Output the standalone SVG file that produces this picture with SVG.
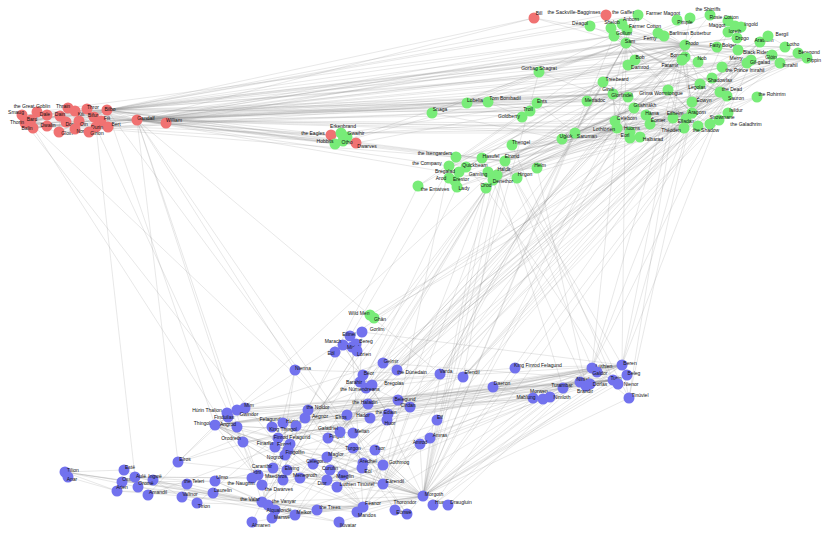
<svg xmlns="http://www.w3.org/2000/svg" width="830" height="536" viewBox="0 0 830 536">
<style>
.e{fill:none;stroke:#8a8a8a;stroke-width:0.45;stroke-opacity:0.45}
.r{fill:#f07272}
.g{fill:#78ec78}
.b{fill:#7272ee}
circle{stroke:none}
text{font-family:"Liberation Sans",Arial,sans-serif;font-size:5px;fill:#111;text-anchor:middle}
</style>
<rect width="830" height="536" fill="#fff"/>
<g id="edges">
<path class="e" d="M137 120L107 110M137 120L25 123M137 120L31 120M137 120L166 123M137 120L108 127M137 120L60 116M137 120L33 128M137 120L68 108M137 120L22 115M137 120L37 112M137 120L101 121M137 120L75 111M137 120L87 109M137 120L47 126M137 120L66 122M107 110L25 123M107 110L22 115M107 110L31 120M107 110L33 128M107 110L66 122M107 110L108 127M107 110L166 123M107 110L37 112M107 110L87 109M107 110L101 121M107 110L75 111M107 110L94 117M107 110L79 121M107 110L59 132M107 110L47 115M25 123L31 120M25 123L22 115M25 123L60 116M25 123L68 108M25 123L87 109M25 123L33 128M25 123L101 121M25 123L75 111M25 123L47 126M25 123L66 122M25 123L96 127M25 123L59 132M25 123L37 112M25 123L89 132M31 120L22 115M31 120L47 115M31 120L89 132M31 120L60 116M87 109L68 108M68 108L60 116M101 121L75 111M108 127L166 123M33 128L47 126M79 121L59 132M66 122L75 129M96 127L68 108M94 117L75 129M108 127L96 127M60 116L59 132"/>
<path class="e" d="M137 120L685 45M137 120L626 43M137 120L692 113M137 120L575 133M137 120L505 161M137 120L614 36M137 120L751 60M137 120L807 58M137 120L684 128M137 120L603 82M137 120L613 94M137 120L700 84M137 120L712 78M137 120L493 180M137 120L331 135M137 120L347 137M137 120L335 144M137 120L534 18M137 120L685 57M137 120L682 60M137 120L650 124M137 120L727 96M137 120L668 90M137 120L738 50M137 120L617 128M137 120L628 97M137 120L488 102M137 120L449 166M137 120L664 36M137 120L356 143M137 120L587 101M137 120L630 132M137 120L537 103M137 120L456 157M137 120L692 102M107 110L685 45M107 110L614 36M107 110L626 43M107 110L606 15M107 110L505 161M107 110L613 94M107 110L467 103M107 110L530 110M107 110L737 38M107 110L638 15M107 110L692 113M107 110L751 60M107 110L807 58M107 110L590 26M107 110L335 144M107 110L331 135M107 110L356 143M107 110L717 47M107 110L785 47M107 110L534 18M25 123L505 161M25 123L331 135M25 123L356 143M108 127L530 110M166 123L530 110M166 123L626 43M59 132L613 94M59 132L685 45M33 128L613 94M60 116L613 94M37 112L614 36M22 115L727 96M31 120L685 45M33 128L685 45M94 117L356 143"/>
<path class="e" d="M137 120L272 518M137 120L295 370M137 120L262 502M137 120L440 374M137 120L178 462M107 110L383 484M22 115L423 496M96 127L262 485M96 127L135 477M25 123L285 455M137 120L407 514M107 110L215 425M33 128L262 485"/>
<path class="e" d="M685 45L626 43M685 45L614 36M685 45L751 60M685 45L807 58M685 45L692 113M685 45L685 57M685 45L682 60M685 45L700 84M685 45L613 94M685 45L690 18M685 45L717 47M685 45L664 36M685 45L738 50M685 45L611 28M685 45L727 96M685 45L505 161M685 45L488 102M685 45L522 117M685 45L785 47M685 45L737 38M685 45L658 33M685 45L628 97M685 45L628 65M685 45L622 24M685 45L615 121M685 45L638 15M685 45L627 30M685 45L710 15M685 45L467 103M685 45L603 82M685 45L668 90M685 45L534 18M626 43L614 36M626 43L611 28M626 43L638 15M626 43L728 21M626 43L627 30M626 43L534 18M626 43L682 60M626 43L751 60M626 43L807 58M626 43L467 103M626 43L622 24M626 43L628 65M626 43L635 60M626 43L692 113M626 43L700 84M626 43L613 94M626 43L603 82M626 43L785 47M626 43L575 133M626 43L539 72M626 43L432 113M626 43L727 96M626 43L690 18M626 43L606 15M626 43L710 15M614 36L590 26M614 36L611 28M614 36L727 96M614 36L682 60M614 36L700 84M614 36L692 113M614 36L539 72M614 36L738 50"/>
<path class="e" d="M692 113L700 84M692 113L613 94M692 113L685 57M692 113L650 124M692 113L684 128M692 113L692 102M692 113L640 137M692 113L686 119M692 113L505 161M692 113L728 113M692 113L760 42M692 113L493 180M692 113L720 92M692 113L780 63M692 113L682 60M692 113L728 32M692 113L751 60M692 113L807 58M692 113L727 96M692 113L698 126M692 113L646 115M692 113L615 121M692 113L668 90M692 113L712 78M692 113L710 124M692 113L673 118M692 113L575 133M692 113L482 158M692 113L457 187M692 113L738 50M692 113L798 53M692 113L449 166M692 113L587 101M684 128L650 124M684 128L692 102M684 128L646 115M684 128L668 90M684 128L575 133M684 128L751 60M684 128L719 120M684 128L341 133M684 128L488 172M684 128L537 168M684 128L512 145M684 128L630 138M684 128L673 118M684 128L757 97M684 128L517 178M684 128L603 82M684 128L634 108M650 124L692 102M650 124L780 63M650 124L482 158M650 124L757 97M650 124L640 137M650 124L646 115M700 84L613 94M700 84L449 178M700 84L712 78M700 84L720 92M613 94L772 55M613 94L615 121M613 94L617 128M613 94L603 82"/>
<path class="e" d="M575 133L603 82M575 133L668 90M575 133L562 139M575 133L456 157M575 133L634 108M575 133L727 96M575 133L785 47M575 133L537 103M575 133L630 132M575 133L486 188M575 133L341 133M575 133L751 60M575 133L807 58M603 82L537 103M603 82L466 167M603 82L459 172M603 82L751 60M603 82L807 58M603 82L418 186M603 82L630 132M603 82L587 101M603 82L449 166M493 180L682 60M493 180L685 57M493 180L807 58M493 180L798 53M493 180L517 178M493 180L780 63M493 180L727 96M493 180L768 36M807 58L751 60M807 58L798 53M807 58L768 36M807 58L587 101M751 60L587 101M751 60L692 102M751 60L722 67M505 161L455 181M505 161L628 97M505 161L686 119M505 161L747 63M505 161L449 166M505 161L700 84M505 161L613 94M505 161L682 60M505 161L685 57M505 161L727 96M692 102L682 60M720 92L640 137M727 96L738 50M727 96L668 90M727 96L682 60M685 57L682 60M685 57L698 62M682 60L628 65M682 60L698 62M488 102L522 117M488 102L467 103M488 102L530 110M482 158L449 178M497 175L615 121M497 175L617 128M457 187L615 121M486 188L712 78M486 188L456 157M341 133L347 137M335 144L331 135M343 141L356 143M347 137L331 135M335 144L343 141M562 139L634 108M562 139L432 113M630 132L617 128M615 121L617 128M710 124L617 128M686 119L760 42M640 137L760 42M728 113L760 42M722 67L780 63M539 72L634 108M539 72L432 113M512 145L630 138M537 168L488 172M466 167L459 172M418 186L537 103M449 166L613 94M449 166L626 43M335 144L685 45M335 144L626 43M331 135L692 113M331 135L712 78M356 143L613 94M356 143L505 161M370 315L374 318M370 315L684 128M374 318L751 60M374 318L757 97"/>
<path class="e" d="M505 161L383 484M505 161L347 415M505 161L592 368M505 161L622 365M505 161L423 496M505 161L629 398M505 161L178 462M692 113L622 365M692 113L592 368M692 113L463 377M692 113L397 370M692 113L366 388M692 113L360 382M692 113L629 398M692 113L215 425M727 96L423 496M727 96L622 365M727 96L592 368M727 96L433 505M727 96L278 438M727 96L463 377M727 96L295 515M728 113L463 377M747 63L463 377M747 63L328 438M747 63L410 407M747 63L383 484M615 121L340 432M710 124L340 432M617 128L340 432M613 94L340 432M685 45L340 432M685 45L440 374M685 45L383 484M626 43L383 484M626 43L440 374M700 84L440 374M628 97L353 448M628 97L423 496M493 180L366 388M682 60L366 388M685 57L366 388M640 137L397 370M686 119L397 370M760 42L397 370M728 32L397 370M780 63L366 388M486 188L423 496M486 188L288 450M486 188L363 507M486 188L272 518M486 188L262 502M486 188L613 380M685 45L622 365M626 43L622 365M626 43L592 368M685 45L592 368M685 45L629 398M505 161L463 377M603 82L440 374M482 158L586 386M497 175L563 388M456 157L262 485M575 133L423 496M539 72L423 496M614 36L423 496M634 108L423 496M738 50L423 496M493 180L423 496M493 180L295 515M457 187L340 432M449 166L383 484M418 186L262 502M512 145L613 380M537 168L586 386M692 113L353 448"/>
<path class="e" d="M423 496L363 507M423 496L288 450M423 496L613 380M423 496L622 365M423 496L592 368M423 496L283 423M423 496L433 505M423 496L448 505M423 496L395 510M423 496L383 465M423 496L295 515M423 496L272 518M423 496L383 484M423 496L215 425M423 496L353 448M423 496L283 480M423 496L278 438M423 496L437 420M423 496L430 438M423 496L420 444M423 496L262 502M423 496L357 512M423 496L407 514M423 496L563 388M423 496L543 399M423 496L533 398M423 496L618 384M423 496L629 398M423 496L627 375M423 496L463 377M423 496L440 374M423 496L328 438M423 496L387 420M423 496L375 450M423 496L339 522M423 496L317 510M423 496L343 475M423 496L327 457M423 496L313 464M423 496L330 470M613 380L627 375M613 380L618 384M613 380L543 399M613 380L283 423M613 380L533 398M613 380L215 425M613 380L563 388M613 380L580 382M613 380L586 386M613 380L590 384M613 380L237 410M613 380L228 417M613 380L245 408M613 380L243 442M613 380L597 372M613 380L227 413M613 380L493 387M613 380L387 420M622 365L592 368M622 365L215 425M622 365L278 438M622 365L433 505M622 365L360 382M622 365L629 398M622 365L493 387M622 365L362 332M622 365L353 433M622 365L515 368M622 365L327 480M622 365L337 487M622 365L313 464M622 365L330 470M622 365L272 427M592 368L215 425M592 368L353 433M592 368L493 387M592 368L433 505M592 368L448 505M592 368L629 398M592 368L357 512M592 368L278 438M592 368L327 480"/>
<path class="e" d="M215 425L353 433M215 425L278 438M215 425L227 413M215 425L533 398M215 425L627 375M215 425L493 387M215 425L327 480M215 425L300 478M215 425L285 455M215 425L237 427M215 425L243 442M215 425L275 447M215 425L178 462M215 425L287 470M215 425L262 485M215 425L340 432M215 425L228 417M215 425L245 408M288 450L363 507M288 450L328 438M288 450L353 448M288 450L275 447M288 450L283 480M288 450L308 410M288 450L363 463M288 450L383 465M288 450L215 425M288 450L283 423M363 507L283 480M363 507L327 457M363 507L313 464M363 507L330 470M363 507L273 468M363 507L430 438M363 507L420 444M363 507L295 515M363 507L317 510M363 507L357 512M363 507L272 518M363 507L262 502M363 507L308 410M363 507L275 447M363 507L352 347M363 507L197 503M363 507L383 465M353 448L363 463M353 448L343 475M353 448L258 475M353 448L375 450M353 448L387 420M353 448L283 423M353 448L395 510M353 448L362 468M353 448L328 438M353 448L383 465M353 448L308 410M383 484L287 470M383 484L375 450M383 484L258 475M383 484L347 415M383 484L327 480M383 484L407 514M383 484L272 518M383 484L410 407M383 484L178 462"/>
<path class="e" d="M262 502L272 518M262 502L440 374M262 502L215 481M262 502L135 477M262 502L138 487M262 502L295 515M262 502L182 497M262 502L268 505M262 502L187 484M262 502L339 522M262 502L357 512M262 502L317 510M262 502L295 370M262 502L252 522M262 502L65 472M262 502L117 491M262 502L357 351M295 515L272 518M295 515L339 522M295 515L135 477M295 515L215 481M295 515L138 487M295 515L252 522M295 515L317 510M317 510L213 493M213 493L117 491M65 472L68 477M65 472L117 491M68 477L117 491M65 472L138 487M65 472L213 493M65 472L317 510M65 472L124 470M135 477L262 485M135 477L252 478M215 481L122 482M215 481L375 450M122 482L187 484M153 480L268 505M153 480L182 497M187 484L182 497M197 503L182 497M197 503L308 410M148 495L178 462M148 495L463 377M178 462L366 388M178 462L347 415M124 470L135 477M124 470L153 480M122 482L117 491M283 423L387 420M283 423L543 399M283 423L227 413M283 423L370 418M387 420L375 450M370 418L388 414M363 375L360 382M360 382L372 385M360 382L362 332M363 375L388 414M368 404L388 414M363 375L343 345M343 345L388 414M350 336L362 332M398 400L360 382M278 438L363 375M278 438L272 427M278 438L243 442M278 438L237 427M278 438L305 418M278 438L340 432M278 438L275 447M340 432L353 433M262 485L285 455M262 485L252 478M262 485L300 478M252 478L135 477M300 478L327 480M362 468L363 463M362 468L343 475M343 475L258 475M383 465L328 438M515 368L360 382M327 480L287 470M327 480L550 397M493 387L533 398M397 370L366 388M366 388L463 377M295 370L440 374M295 370L272 518M440 374L272 518M383 363L237 410M366 388L347 415M227 413L543 399M237 410L580 382M272 427L622 365M283 423L563 388M215 425L586 386M305 418L592 368M383 363L613 380M335 352L363 375M357 351L262 502"/>
</g>
<g id="n-smaug"><circle class="r" cx="22" cy="115" r="5.5"/><text x="16" y="114">Smaug</text></g>
<g id="n-greatgoblin"><circle class="r" cx="37" cy="112" r="5.5"/><text x="32" y="108">the Great Goblin</text></g>
<g id="n-thorin"><circle class="r" cx="25" cy="123" r="5.5"/><text x="17" y="124">Thorin</text></g>
<g id="n-bard"><circle class="r" cx="31" cy="120" r="5.5"/><text x="32" y="121">Bard</text></g>
<g id="n-balin"><circle class="r" cx="33" cy="128" r="5.5"/><text x="27" y="130">Balin</text></g>
<g id="n-dwalin"><circle class="r" cx="47" cy="126" r="5.5"/><text x="48" y="127">Dwalin</text></g>
<g id="n-dale"><circle class="r" cx="47" cy="115" r="5.5"/><text x="45" y="116">Dale</text></g>
<g id="n-dain"><circle class="r" cx="60" cy="116" r="5.5"/><text x="60" y="116">Dain</text></g>
<g id="n-thrain"><circle class="r" cx="68" cy="108" r="5.5"/><text x="63" y="108">Thrain</text></g>
<g id="n-kili"><circle class="r" cx="75" cy="111" r="5.5"/><text x="81" y="116">Kili</text></g>
<g id="n-thror"><circle class="r" cx="87" cy="109" r="5.5"/><text x="93" y="109">Thror</text></g>
<g id="n-bilbo"><circle class="r" cx="107" cy="110" r="5.5"/><text x="110" y="111">Bilbo</text></g>
<g id="n-bifur"><circle class="r" cx="94" cy="117" r="5.5"/><text x="93" y="117">Bifur</text></g>
<g id="n-fili"><circle class="r" cx="101" cy="121" r="5.5"/><text x="107" y="120">Fili</text></g>
<g id="n-bert"><circle class="r" cx="108" cy="127" r="5.5"/><text x="116" y="126">Bert</text></g>
<g id="n-dori"><circle class="r" cx="66" cy="122" r="5.5"/><text x="70" y="126">Dori</text></g>
<g id="n-oin"><circle class="r" cx="79" cy="121" r="5.5"/><text x="84" y="126">Oin</text></g>
<g id="n-durin"><circle class="r" cx="96" cy="127" r="5.5"/><text x="97" y="129">Durin</text></g>
<g id="n-gloin"><circle class="r" cx="59" cy="132" r="5.5"/><text x="67" y="135">Gloin</text></g>
<g id="n-nori"><circle class="r" cx="75" cy="129" r="5.5"/><text x="81" y="133">Nori</text></g>
<g id="n-girion"><circle class="r" cx="89" cy="132" r="5.5"/><text x="97" y="135">Girion</text></g>
<g id="n-gandalf"><circle class="r" cx="137" cy="120" r="5.5"/><text x="146" y="120">Gandalf</text></g>
<g id="n-william"><circle class="r" cx="166" cy="123" r="5.5"/><text x="174" y="122">William</text></g>
<g id="n-bill"><circle class="r" cx="534" cy="18" r="5.5"/><text x="539" y="15">Bill</text></g>
<g id="n-sackville"><circle class="r" cx="606" cy="15" r="5.5"/><text x="574" y="14">the Sackville-Bagginses</text></g>
<g id="n-eagles"><circle class="r" cx="331" cy="135" r="5.5"/><text x="313" y="135">the Eagles</text></g>
<g id="n-dwarves-r"><circle class="r" cx="356" cy="143" r="5.5"/><text x="367" y="148">Dwarves</text></g>
<g id="n-gaffer"><circle class="g" cx="638" cy="15" r="5.5"/><text x="623" y="14">the Gaffer</text></g>
<g id="n-anborn"><circle class="g" cx="622" cy="24" r="5.5"/><text x="631" y="21">Anborn</text></g>
<g id="n-shelob"><circle class="g" cx="611" cy="28" r="5.5"/><text x="612" y="24">Shelob</text></g>
<g id="n-farmercotton"><circle class="g" cx="627" cy="30" r="5.5"/><text x="645" y="28">Farmer Cotton</text></g>
<g id="n-gollum"><circle class="g" cx="614" cy="36" r="5.5"/><text x="624" y="35">Gollum</text></g>
<g id="n-deagol"><circle class="g" cx="590" cy="26" r="5.5"/><text x="580" y="25">Déagol</text></g>
<g id="n-sam"><circle class="g" cx="626" cy="43" r="5.5"/><text x="630" y="43">Sam</text></g>
<g id="n-ferny"><circle class="g" cx="658" cy="33" r="5.5"/><text x="650" y="40">Ferny</text></g>
<g id="n-barliman"><circle class="g" cx="664" cy="36" r="5.5"/><text x="690" y="35">Barliman Butterbur</text></g>
<g id="n-farmermaggot"><circle class="g" cx="690" cy="18" r="5.5"/><text x="663" y="15">Farmer Maggot</text></g>
<g id="n-pimple"><circle class="g" cx="677" cy="20" r="5.5"/><text x="685" y="24">Pimple</text></g>
<g id="n-shirriffs"><circle class="g" cx="710" cy="15" r="5.5"/><text x="708" y="11">the Shirriffs</text></g>
<g id="n-rosie"><circle class="g" cx="728" cy="21" r="5.5"/><text x="724" y="19">Rosie Cotton</text></g>
<g id="n-maggot"><circle class="g" cx="735" cy="26" r="5.5"/><text x="717" y="27">Maggot</text></g>
<g id="n-ingold"><circle class="g" cx="741" cy="27" r="5.5"/><text x="751" y="26">Ingold</text></g>
<g id="n-ioreth"><circle class="g" cx="728" cy="32" r="5.5"/><text x="735" y="33">Ioreth</text></g>
<g id="n-drogo"><circle class="g" cx="737" cy="38" r="5.5"/><text x="742" y="40">Drogo</text></g>
<g id="n-fatty"><circle class="g" cx="717" cy="47" r="5.5"/><text x="723" y="47">Fatty Bolger</text></g>
<g id="n-arathorn"><circle class="g" cx="760" cy="42" r="5.5"/><text x="764" y="42">Arathorn</text></g>
<g id="n-bergil"><circle class="g" cx="768" cy="36" r="5.5"/><text x="782" y="36">Bergil</text></g>
<g id="n-lotho"><circle class="g" cx="785" cy="47" r="5.5"/><text x="793" y="46">Lotho</text></g>
<g id="n-beregond"><circle class="g" cx="798" cy="53" r="5.5"/><text x="809" y="54">Beregond</text></g>
<g id="n-pippin"><circle class="g" cx="807" cy="58" r="5.5"/><text x="814" y="62">Pippin</text></g>
<g id="n-blackriders"><circle class="g" cx="738" cy="50" r="5.5"/><text x="757" y="54">Black Riders</text></g>
<g id="n-frodo"><circle class="g" cx="685" cy="45" r="5.5"/><text x="692" y="45">Frodo</text></g>
<g id="n-boromir"><circle class="g" cx="685" cy="57" r="5.5"/><text x="679" y="57">Boromir</text></g>
<g id="n-nob"><circle class="g" cx="698" cy="62" r="5.5"/><text x="702" y="60">Nob</text></g>
<g id="n-faramir"><circle class="g" cx="682" cy="60" r="5.5"/><text x="670" y="67">Faramir</text></g>
<g id="n-merry"><circle class="g" cx="751" cy="60" r="5.5"/><text x="736" y="60">Merry</text></g>
<g id="n-gilgalad"><circle class="g" cx="747" cy="63" r="5.5"/><text x="760" y="64">Gil-galad</text></g>
<g id="n-gloin-g"><circle class="g" cx="772" cy="55" r="5.5"/><text x="771" y="59">Glóin</text></g>
<g id="n-imrahil"><circle class="g" cx="780" cy="63" r="5.5"/><text x="790" y="67">Imrahil</text></g>
<g id="n-princeimrahil"><circle class="g" cx="722" cy="67" r="5.5"/><text x="745" y="72">the Prince Imrahil</text></g>
<g id="n-bob"><circle class="g" cx="635" cy="60" r="5.5"/><text x="640" y="59">Bob</text></g>
<g id="n-damrod"><circle class="g" cx="628" cy="65" r="5.5"/><text x="640" y="69">Damrod</text></g>
<g id="n-gorbag"><circle class="g" cx="539" cy="72" r="5.5"/><text x="539" y="70">Gorbag Shagrat</text></g>
<g id="n-treebeard"><circle class="g" cx="603" cy="82" r="5.5"/><text x="617" y="81">Treebeard</text></g>
<g id="n-gimli"><circle class="g" cx="613" cy="94" r="5.5"/><text x="608" y="91">Gimli</text></g>
<g id="n-glorfindel"><circle class="g" cx="628" cy="97" r="5.5"/><text x="622" y="97">Glorfindel</text></g>
<g id="n-meriadoc"><circle class="g" cx="587" cy="101" r="5.5"/><text x="595" y="102">Meriadoc</text></g>
<g id="n-grima"><circle class="g" cx="668" cy="90" r="5.5"/><text x="661" y="95">Grima Wormtongue</text></g>
<g id="n-legolas"><circle class="g" cx="700" cy="84" r="5.5"/><text x="697" y="89">Legolas</text></g>
<g id="n-shadowfax"><circle class="g" cx="712" cy="78" r="5.5"/><text x="720" y="82">Shadowfax</text></g>
<g id="n-thedead"><circle class="g" cx="720" cy="92" r="5.5"/><text x="732" y="91">the Dead</text></g>
<g id="n-sauron"><circle class="g" cx="727" cy="96" r="5.5"/><text x="736" y="100">Sauron</text></g>
<g id="n-rohirrim"><circle class="g" cx="757" cy="97" r="5.5"/><text x="772" y="96">the Rohirrim</text></g>
<g id="n-eowyn"><circle class="g" cx="692" cy="102" r="5.5"/><text x="704" y="102">Éowyn</text></g>
<g id="n-grishnakh"><circle class="g" cx="634" cy="108" r="5.5"/><text x="645" y="107">Grishnákh</text></g>
<g id="n-hama"><circle class="g" cx="646" cy="115" r="5.5"/><text x="652" y="115">Háma</text></g>
<g id="n-eomer"><circle class="g" cx="650" cy="124" r="5.5"/><text x="658" y="122">Éomer</text></g>
<g id="n-elfhelm"><circle class="g" cx="673" cy="118" r="5.5"/><text x="675" y="115">Elfhelm</text></g>
<g id="n-aragorn"><circle class="g" cx="692" cy="113" r="5.5"/><text x="697" y="114">Aragorn</text></g>
<g id="n-elladan"><circle class="g" cx="686" cy="119" r="5.5"/><text x="686" y="123">Elladan</text></g>
<g id="n-isildur"><circle class="g" cx="728" cy="113" r="5.5"/><text x="736" y="112">Isildur</text></g>
<g id="n-snowmane"><circle class="g" cx="719" cy="120" r="5.5"/><text x="722" y="119">Snowmane</text></g>
<g id="n-galadhrim"><circle class="g" cx="710" cy="124" r="5.5"/><text x="746" y="126">the Galadhrim</text></g>
<g id="n-shadow"><circle class="g" cx="698" cy="126" r="5.5"/><text x="706" y="132">the Shadow</text></g>
<g id="n-theoden"><circle class="g" cx="684" cy="128" r="5.5"/><text x="671" y="132">Théoden</text></g>
<g id="n-celeborn"><circle class="g" cx="615" cy="121" r="5.5"/><text x="627" y="120">Celeborn</text></g>
<g id="n-lothlorien"><circle class="g" cx="617" cy="128" r="5.5"/><text x="604" y="131">Lothlórien</text></g>
<g id="n-huorns"><circle class="g" cx="630" cy="132" r="5.5"/><text x="632" y="130">Huorns</text></g>
<g id="n-eorl"><circle class="g" cx="630" cy="138" r="5.5"/><text x="625" y="137">Eorl</text></g>
<g id="n-halbarad"><circle class="g" cx="640" cy="137" r="5.5"/><text x="653" y="141">Halbarad</text></g>
<g id="n-saruman"><circle class="g" cx="575" cy="133" r="5.5"/><text x="587" y="138">Saruman</text></g>
<g id="n-ugluk"><circle class="g" cx="562" cy="139" r="5.5"/><text x="566" y="138">Uglúk</text></g>
<g id="n-ents"><circle class="g" cx="537" cy="103" r="5.5"/><text x="542" y="103">Ents</text></g>
<g id="n-troll"><circle class="g" cx="530" cy="111" r="5.5"/><text x="528" y="111">Troll</text></g>
<g id="n-goldberry"><circle class="g" cx="522" cy="117" r="5.5"/><text x="509" y="118">Goldberry</text></g>
<g id="n-tombombadil"><circle class="g" cx="488" cy="102" r="5.5"/><text x="505" y="100">Tom Bombadil</text></g>
<g id="n-lobelia"><circle class="g" cx="467" cy="103" r="5.5"/><text x="475" y="102">Lobelia</text></g>
<g id="n-snaga"><circle class="g" cx="432" cy="113" r="5.5"/><text x="440" y="111">Snaga</text></g>
<g id="n-thengel"><circle class="g" cx="512" cy="145" r="5.5"/><text x="521" y="144">Thengel</text></g>
<g id="n-hasufel"><circle class="g" cx="482" cy="158" r="5.5"/><text x="491" y="158">Hasufel</text></g>
<g id="n-elrond"><circle class="g" cx="505" cy="161" r="5.5"/><text x="512" y="158">Elrond</text></g>
<g id="n-isengarders"><circle class="g" cx="456" cy="157" r="5.5"/><text x="435" y="155">the Isengarders</text></g>
<g id="n-company"><circle class="g" cx="449" cy="166" r="5.5"/><text x="427" y="165">the Company</text></g>
<g id="n-quickbeam"><circle class="g" cx="466" cy="167" r="5.5"/><text x="475" y="167">Quickbeam</text></g>
<g id="n-bregalad"><circle class="g" cx="459" cy="172" r="5.5"/><text x="445" y="173">Bregalad</text></g>
<g id="n-arod"><circle class="g" cx="449" cy="178" r="5.5"/><text x="441" y="180">Arod</text></g>
<g id="n-erestor"><circle class="g" cx="455" cy="181" r="5.5"/><text x="461" y="181">Erestor</text></g>
<g id="n-entwives"><circle class="g" cx="418" cy="186" r="5.5"/><text x="435" y="191">the Entwives</text></g>
<g id="n-lady"><circle class="g" cx="457" cy="187" r="5.5"/><text x="464" y="190">Lady</text></g>
<g id="n-gamling"><circle class="g" cx="488" cy="172" r="5.5"/><text x="478" y="176">Gamling</text></g>
<g id="n-haldir"><circle class="g" cx="497" cy="175" r="5.5"/><text x="504" y="171">Haldir</text></g>
<g id="n-hirgon"><circle class="g" cx="517" cy="178" r="5.5"/><text x="525" y="176">Hirgon</text></g>
<g id="n-denethor"><circle class="g" cx="493" cy="180" r="5.5"/><text x="503" y="183">Denethor</text></g>
<g id="n-orod"><circle class="g" cx="486" cy="188" r="5.5"/><text x="486" y="187">Orod</text></g>
<g id="n-helm"><circle class="g" cx="537" cy="168" r="5.5"/><text x="540" y="167">Helm</text></g>
<g id="n-erkenbrand"><circle class="g" cx="341" cy="133" r="5.5"/><text x="343" y="128">Erkenbrand</text></g>
<g id="n-gwaihir"><circle class="g" cx="347" cy="137" r="5.5"/><text x="356" y="135">Gwaihir</text></g>
<g id="n-hobbits"><circle class="g" cx="335" cy="144" r="5.5"/><text x="325" y="143">Hobbits</text></g>
<g id="n-otho"><circle class="g" cx="343" cy="141" r="5.5"/><text x="347" y="144">Otho</text></g>
<g id="n-wildmen"><circle class="g" cx="370" cy="315" r="5.5"/><text x="359" y="315">Wild Men</text></g>
<g id="n-ghan"><circle class="g" cx="374" cy="318" r="5.5"/><text x="380" y="321">Ghân</text></g>
<g id="n-gorlim"><circle class="b" cx="362" cy="332" r="5.5"/><text x="377" y="331">Gorlim</text></g>
<g id="n-eilinel"><circle class="b" cx="350" cy="336" r="5.5"/><text x="349" y="336">Eilinel</text></g>
<g id="n-marach"><circle class="b" cx="343" cy="345" r="5.5"/><text x="333" y="343">Marach</text></g>
<g id="n-bereg"><circle class="b" cx="356" cy="344" r="5.5"/><text x="366" y="343">Bereg</text></g>
<g id="n-miriel"><circle class="b" cx="352" cy="347" r="5.5"/><text x="353" y="349">Míriel</text></g>
<g id="n-epil"><circle class="b" cx="335" cy="352" r="5.5"/><text x="331" y="355">Eöl</text></g>
<g id="n-lorien"><circle class="b" cx="357" cy="351" r="5.5"/><text x="364" y="356">Lórien</text></g>
<g id="n-gelmir"><circle class="b" cx="383" cy="363" r="5.5"/><text x="391" y="363">Gelmir</text></g>
<g id="n-dunedain"><circle class="b" cx="397" cy="370" r="5.5"/><text x="412" y="374">the Dúnedain</text></g>
<g id="n-varda"><circle class="b" cx="440" cy="374" r="5.5"/><text x="446" y="373">Varda</text></g>
<g id="n-elendil"><circle class="b" cx="463" cy="377" r="5.5"/><text x="472" y="374">Elendil</text></g>
<g id="n-beor"><circle class="b" cx="363" cy="375" r="5.5"/><text x="369" y="375">Bëor</text></g>
<g id="n-barahir"><circle class="b" cx="360" cy="382" r="5.5"/><text x="354" y="384">Barahir</text></g>
<g id="n-bregolas"><circle class="b" cx="372" cy="385" r="5.5"/><text x="394" y="385">Bregolas</text></g>
<g id="n-numenoreans"><circle class="b" cx="366" cy="388" r="5.5"/><text x="360" y="391">the Númenóreans</text></g>
<g id="n-nienna"><circle class="b" cx="295" cy="370" r="5.5"/><text x="303" y="370">Nienna</text></g>
<g id="n-kff"><circle class="b" cx="515" cy="368" r="5.5"/><text x="538" y="367">King Finrod Felagund</text></g>
<g id="n-daeron"><circle class="b" cx="493" cy="387" r="5.5"/><text x="502" y="385">Daeron</text></g>
<g id="n-luthien"><circle class="b" cx="592" cy="368" r="5.5"/><text x="604" y="368">Lúthien</text></g>
<g id="n-beren"><circle class="b" cx="622" cy="365" r="5.5"/><text x="630" y="365">Beren</text></g>
<g id="n-galdor"><circle class="b" cx="597" cy="372" r="5.5"/><text x="600" y="375">Galdor</text></g>
<g id="n-beleg"><circle class="b" cx="627" cy="375" r="5.5"/><text x="634" y="375">Beleg</text></g>
<g id="n-turin"><circle class="b" cx="613" cy="380" r="5.5"/><text x="616" y="380">Turin</text></g>
<g id="n-nienor"><circle class="b" cx="618" cy="384" r="5.5"/><text x="631" y="386">Nienor</text></g>
<g id="n-niniel"><circle class="b" cx="580" cy="382" r="5.5"/><text x="583" y="381">Níniel</text></g>
<g id="n-dorlas"><circle class="b" cx="590" cy="384" r="5.5"/><text x="600" y="386">Dorlas</text></g>
<g id="n-brandir"><circle class="b" cx="586" cy="386" r="5.5"/><text x="585" y="393">Brandir</text></g>
<g id="n-turambar"><circle class="b" cx="563" cy="388" r="5.5"/><text x="562" y="387">Turambar</text></g>
<g id="n-morwen"><circle class="b" cx="543" cy="399" r="5.5"/><text x="539" y="393">Morwen</text></g>
<g id="n-mablung"><circle class="b" cx="533" cy="398" r="5.5"/><text x="526" y="399">Mablung</text></g>
<g id="n-nimloth"><circle class="b" cx="550" cy="397" r="5.5"/><text x="562" y="399">Nimloth</text></g>
<g id="n-tinuviel"><circle class="b" cx="629" cy="398" r="5.5"/><text x="640" y="397">Tinúviel</text></g>
<g id="n-hurinthalion"><circle class="b" cx="227" cy="413" r="5.5"/><text x="207" y="412">Húrin Thalion</text></g>
<g id="n-mim"><circle class="b" cx="245" cy="408" r="5.5"/><text x="249" y="407">Mîm</text></g>
<g id="n-gwindor"><circle class="b" cx="237" cy="410" r="5.5"/><text x="249" y="416">Gwindor</text></g>
<g id="n-finduilas"><circle class="b" cx="228" cy="417" r="5.5"/><text x="224" y="419">Finduilas</text></g>
<g id="n-thingol"><circle class="b" cx="215" cy="425" r="5.5"/><text x="202" y="425">Thingol</text></g>
<g id="n-angrod"><circle class="b" cx="237" cy="427" r="5.5"/><text x="228" y="426">Angrod</text></g>
<g id="n-orodreth"><circle class="b" cx="243" cy="442" r="5.5"/><text x="231" y="440">Orodreth</text></g>
<g id="n-felagund"><circle class="b" cx="272" cy="427" r="5.5"/><text x="270" y="421">Felagund</text></g>
<g id="n-hurin"><circle class="b" cx="283" cy="423" r="5.5"/><text x="292" y="423">Húrin</text></g>
<g id="n-kingthingol"><circle class="b" cx="296" cy="426" r="5.5"/><text x="283" y="431">King Thingol</text></g>
<g id="n-noldor"><circle class="b" cx="308" cy="410" r="5.5"/><text x="318" y="409">the Noldor</text></g>
<g id="n-aegnor"><circle class="b" cx="305" cy="418" r="5.5"/><text x="320" y="418">Aegnor</text></g>
<g id="n-finrodfelagund"><circle class="b" cx="278" cy="438" r="5.5"/><text x="292" y="439">Finrod Felagund</text></g>
<g id="n-finarfin"><circle class="b" cx="275" cy="447" r="5.5"/><text x="265" y="445">Finarfin</text></g>
<g id="n-finrod"><circle class="b" cx="290" cy="444" r="5.5"/><text x="284" y="446">Finrod</text></g>
<g id="n-nogrod"><circle class="b" cx="285" cy="455" r="5.5"/><text x="275" y="459">Nogrod</text></g>
<g id="n-fingolfin"><circle class="b" cx="288" cy="450" r="5.5"/><text x="295" y="454">Fingolfin</text></g>
<g id="n-celegorm"><circle class="b" cx="313" cy="464" r="5.5"/><text x="317" y="463">Celegorm</text></g>
<g id="n-caranthir"><circle class="b" cx="273" cy="468" r="5.5"/><text x="262" y="468">Caranthir</text></g>
<g id="n-elwing"><circle class="b" cx="287" cy="470" r="5.5"/><text x="292" y="470">Elwing</text></g>
<g id="n-idril"><circle class="b" cx="258" cy="475" r="5.5"/><text x="257" y="474">Idril</text></g>
<g id="n-menegroth"><circle class="b" cx="300" cy="478" r="5.5"/><text x="305" y="477">Menegroth</text></g>
<g id="n-maedhros"><circle class="b" cx="283" cy="480" r="5.5"/><text x="276" y="478">Maedhros</text></g>
<g id="n-maeglin"><circle class="b" cx="343" cy="475" r="5.5"/><text x="345" y="478">Maeglin</text></g>
<g id="n-curufin"><circle class="b" cx="330" cy="470" r="5.5"/><text x="330" y="470">Curufin</text></g>
<g id="n-maglor"><circle class="b" cx="327" cy="457" r="5.5"/><text x="336" y="456">Maglor</text></g>
<g id="n-aredhel"><circle class="b" cx="363" cy="463" r="5.5"/><text x="368" y="463">Aredhel</text></g>
<g id="n-gothmog"><circle class="b" cx="383" cy="465" r="5.5"/><text x="399" y="464">Gothmog</text></g>
<g id="n-eol"><circle class="b" cx="362" cy="468" r="5.5"/><text x="368" y="473">Eöl</text></g>
<g id="n-turgon"><circle class="b" cx="353" cy="448" r="5.5"/><text x="353" y="450">Turgon</text></g>
<g id="n-tuor"><circle class="b" cx="375" cy="450" r="5.5"/><text x="380" y="450">Tuor</text></g>
<g id="n-fingon"><circle class="b" cx="328" cy="438" r="5.5"/><text x="337" y="438">Fingon</text></g>
<g id="n-galadriel"><circle class="b" cx="340" cy="432" r="5.5"/><text x="328" y="430">Galadriel</text></g>
<g id="n-melian"><circle class="b" cx="353" cy="433" r="5.5"/><text x="362" y="433">Melian</text></g>
<g id="n-elros"><circle class="b" cx="347" cy="415" r="5.5"/><text x="341" y="419">Elros</text></g>
<g id="n-hador"><circle class="b" cx="370" cy="418" r="5.5"/><text x="363" y="417">Hador</text></g>
<g id="n-haladin"><circle class="b" cx="368" cy="404" r="5.5"/><text x="365" y="404">the Haladin</text></g>
<g id="n-edain"><circle class="b" cx="388" cy="414" r="5.5"/><text x="386" y="414">the Edain</text></g>
<g id="n-huor"><circle class="b" cx="387" cy="420" r="5.5"/><text x="390" y="425">Huor</text></g>
<g id="n-belegund"><circle class="b" cx="398" cy="400" r="5.5"/><text x="405" y="401">Belegund</text></g>
<g id="n-cirdan"><circle class="b" cx="410" cy="407" r="5.5"/><text x="408" y="407">Círdan</text></g>
<g id="n-elf"><circle class="b" cx="437" cy="420" r="5.5"/><text x="440" y="419">Elf</text></g>
<g id="n-amras"><circle class="b" cx="430" cy="438" r="5.5"/><text x="440" y="437">Amras</text></g>
<g id="n-amrod"><circle class="b" cx="420" cy="444" r="5.5"/><text x="420" y="444">Amrod</text></g>
<g id="n-earendil"><circle class="b" cx="383" cy="484" r="5.5"/><text x="395" y="483">Eärendil</text></g>
<g id="n-dior"><circle class="b" cx="327" cy="480" r="5.5"/><text x="322" y="485">Dior</text></g>
<g id="n-luthientinuviel"><circle class="b" cx="337" cy="487" r="5.5"/><text x="357" y="486">Lúthien Tinúviel</text></g>
<g id="n-dwarves"><circle class="b" cx="262" cy="485" r="5.5"/><text x="279" y="491">the Dwarves</text></g>
<g id="n-naugrim"><circle class="b" cx="252" cy="478" r="5.5"/><text x="241" y="485">the Naugrim</text></g>
<g id="n-valar"><circle class="b" cx="262" cy="502" r="5.5"/><text x="250" y="501">the Valar</text></g>
<g id="n-vanyar"><circle class="b" cx="268" cy="505" r="5.5"/><text x="284" y="503">the Vanyar</text></g>
<g id="n-alqualonde"><circle class="b" cx="275" cy="510" r="5.5"/><text x="279" y="512">Alqualondë</text></g>
<g id="n-melkor"><circle class="b" cx="295" cy="515" r="5.5"/><text x="304" y="514">Melkor</text></g>
<g id="n-manwe"><circle class="b" cx="272" cy="518" r="5.5"/><text x="282" y="519">Manwë</text></g>
<g id="n-trees"><circle class="b" cx="317" cy="510" r="5.5"/><text x="330" y="509">the Trees</text></g>
<g id="n-feanor"><circle class="b" cx="363" cy="507" r="5.5"/><text x="373" y="505">Fëanor</text></g>
<g id="n-mandos"><circle class="b" cx="357" cy="512" r="5.5"/><text x="367" y="517">Mandos</text></g>
<g id="n-thorondor"><circle class="b" cx="395" cy="510" r="5.5"/><text x="405" y="504">Thorondor</text></g>
<g id="n-eonwe"><circle class="b" cx="407" cy="514" r="5.5"/><text x="404" y="514">Eönwë</text></g>
<g id="n-morgoth"><circle class="b" cx="423" cy="496" r="5.5"/><text x="434" y="496">Morgoth</text></g>
<g id="n-huan"><circle class="b" cx="433" cy="505" r="5.5"/><text x="441" y="504">Huan</text></g>
<g id="n-draugluin"><circle class="b" cx="448" cy="505" r="5.5"/><text x="461" y="504">Draugluin</text></g>
<g id="n-iluvatar"><circle class="b" cx="339" cy="522" r="5.5"/><text x="348" y="527">Ilúvatar</text></g>
<g id="n-almaren"><circle class="b" cx="252" cy="522" r="5.5"/><text x="261" y="527">Almaren</text></g>
<g id="n-tilion"><circle class="b" cx="65" cy="472" r="5.5"/><text x="73" y="472">Tilion</text></g>
<g id="n-anar"><circle class="b" cx="68" cy="477" r="5.5"/><text x="72" y="481">Anar</text></g>
<g id="n-este"><circle class="b" cx="124" cy="470" r="5.5"/><text x="130" y="469">Estë</text></g>
<g id="n-osse"><circle class="b" cx="122" cy="482" r="5.5"/><text x="128" y="481">Ossë</text></g>
<g id="n-aule"><circle class="b" cx="135" cy="477" r="5.5"/><text x="141" y="478">Aulë</text></g>
<g id="n-ingwe"><circle class="b" cx="153" cy="480" r="5.5"/><text x="155" y="478">Ingwë</text></g>
<g id="n-orome"><circle class="b" cx="138" cy="487" r="5.5"/><text x="146" y="485">Oromë</text></g>
<g id="n-arien"><circle class="b" cx="117" cy="491" r="5.5"/><text x="122" y="489">Arien</text></g>
<g id="n-amandil"><circle class="b" cx="148" cy="495" r="5.5"/><text x="158" y="494">Amandil</text></g>
<g id="n-teleri"><circle class="b" cx="187" cy="484" r="5.5"/><text x="194" y="483">the Teleri</text></g>
<g id="n-ulmo"><circle class="b" cx="215" cy="481" r="5.5"/><text x="222" y="479">Ulmo</text></g>
<g id="n-laurelin"><circle class="b" cx="213" cy="493" r="5.5"/><text x="223" y="492">Laurelin</text></g>
<g id="n-valinor"><circle class="b" cx="182" cy="497" r="5.5"/><text x="190" y="496">Valinor</text></g>
<g id="n-tirion"><circle class="b" cx="197" cy="503" r="5.5"/><text x="204" y="508">Tirion</text></g>
<g id="n-elwe"><circle class="b" cx="178" cy="462" r="5.5"/><text x="185" y="461">Elros</text></g>
</svg>
